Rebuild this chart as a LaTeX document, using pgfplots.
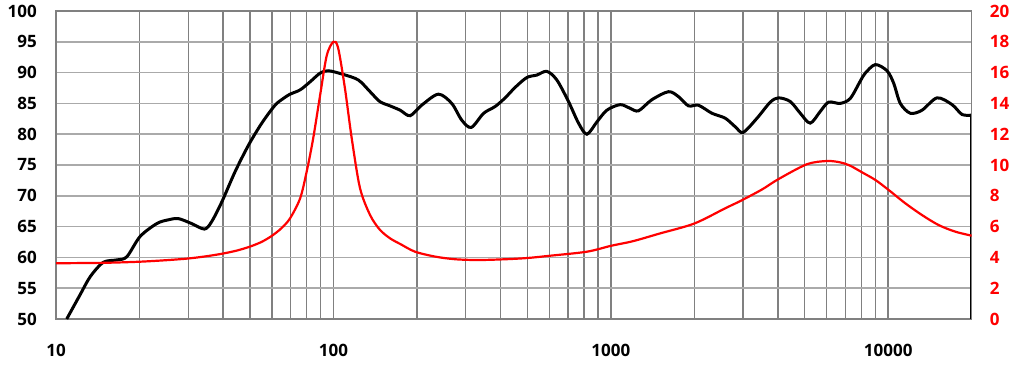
\documentclass[border=0pt]{standalone}
\usepackage{fontspec}
\setmainfont{Open Sans}
\usepackage{pgfplots}
\pgfplotsset{compat=1.18}
\definecolor{vgrid}{RGB}{128,128,128}
\definecolor{hgrid}{RGB}{170,170,170}
\definecolor{zred}{RGB}{255,0,0}
\begin{document}
\begin{tikzpicture}
\useasboundingbox (-56pt,-49pt) rectangle (968pt,319pt);
\begin{axis}[
  scale only axis, width=915.7pt, height=308pt,
  xmode=log, xmin=10, xmax=20000,
  ymin=50, ymax=100,
  ytick={50,55,...,100},
  xtick={10,100,1000,10000},
  xticklabels={10,100,1000,10000},
  major tick length=0pt, minor tick length=0pt,
  axis line style={draw=vgrid, line width=1.4pt},
  xmajorgrids, xminorgrids, ymajorgrids,
  x grid style={draw=vgrid, line width=1.5pt},
  minor x grid style={draw=vgrid, line width=1.4pt},
  y grid style={draw=hgrid, line width=1.5pt},
  tick label style={font=\fontsize{17}{18}\selectfont\bfseries, inner sep=0pt, text=black},
  /pgf/number format/assume math mode=true,
  yticklabel style={anchor=east, xshift=-19pt},
  xticklabel style={anchor=north, yshift=-25pt},
  clip=true,
]
\addplot[black, line width=3pt, smooth, tension=0.5] coordinates {
(10.93,50.0) (12.2,53.9) (13.3,56.9) (14.8,59.2) (16.6,59.6) (18.0,60.1)
(20.1,63.4) (23.1,65.5) (25.4,66.1) (27.6,66.3) (30.8,65.5) (34.3,64.6)
(36.4,65.8) (39.6,69.0) (44.2,73.9) (49.4,78.2) (55.2,81.8) (61.6,84.7)
(66.0,85.8) (69.8,86.5) (75.9,87.2) (82.4,88.5) (89.5,89.9) (95.9,90.3)
(108.6,89.7) (123,88.8) (135.6,86.9) (147,85.3) (160,84.6) (174,83.9)
(189,83.0) (208,84.7) (239,86.5) (267,85.0) (290,82.3) (314,81.1)
(348,83.4) (383,84.5) (416,85.9) (452,87.6) (498,89.2) (541,89.6)
(588,90.2) (639,88.8) (704,85.3) (765,81.8) (820,80.0) (891,82.0)
(968,83.9) (1081,84.8) (1175,84.2) (1259,83.8) (1406,85.6) (1614,86.9)
(1754,86.1) (1905,84.6) (2070,84.7) (2315,83.4) (2585,82.6) (2810,81.2)
(3000,80.3) (3366,82.6) (3757,85.2) (4026,85.9) (4436,85.3) (4820,83.4)
(5236,81.8) (5690,83.7) (6095,85.2) (6714,85.0) (7296,85.8) (7927,88.6)
(8260,89.9) (8986,91.3) (9900,90.3) (10460,88.3) (11056,85.0) (12015,83.4)
(13240,83.9) (15000,85.9) (16990,84.8) (18460,83.2) (20000,83.1)
};
\addplot[black, line width=3pt] coordinates {(20000,83.1) (20000,50)};
\end{axis}
\begin{axis}[
  scale only axis, width=915.7pt, height=308pt,
  xmode=log, xmin=10, xmax=20000,
  ymin=0, ymax=20,
  ytick={0,2,...,20},
  axis x line=none,
  axis y line*=right,
  major tick length=0pt, minor tick length=0pt,
  axis line style={draw=vgrid, line width=1.4pt},
  tick label style={font=\fontsize{17}{18}\selectfont\bfseries, inner sep=0pt, text=zred},
  /pgf/number format/assume math mode=true,
  yticklabel style={anchor=west, xshift=18pt},
]
\addplot[zred, line width=2.2pt, smooth, tension=0.5] coordinates {
(10,3.62) (15,3.65) (20,3.72) (25,3.82) (30,3.93) (35,4.08) (40,4.25)
(45,4.45) (50,4.70) (55,5.0) (60,5.4) (65,5.9) (69.8,6.54) (75.9,7.84)
(80.1,9.57) (84.5,11.7) (89.5,14.5) (94.6,17.1) (100,18.0) (104,17.6) (110,15.0)
(116.5,11.7) (124.7,8.5) (135.6,6.75) (147,5.8) (160,5.24) (175,4.85) (197,4.37)
(233,4.05) (275,3.88) (333,3.83) (416,3.88) (500,3.96) (605,4.11) (820,4.37)
(1000,4.75) (1200,5.05) (1500,5.55) (2000,6.2) (2585,7.19) (2929,7.66)
(3500,8.4) (4026,9.09) (5093,10.05) (6017,10.26) (6714,10.17) (7300,9.95)
(8000,9.55) (8986,9.03) (10000,8.4) (11530,7.51) (13240,6.75) (15200,6.10) (17460,5.67)
(20000,5.41)
};
\end{axis}
\end{tikzpicture}
\end{document}
